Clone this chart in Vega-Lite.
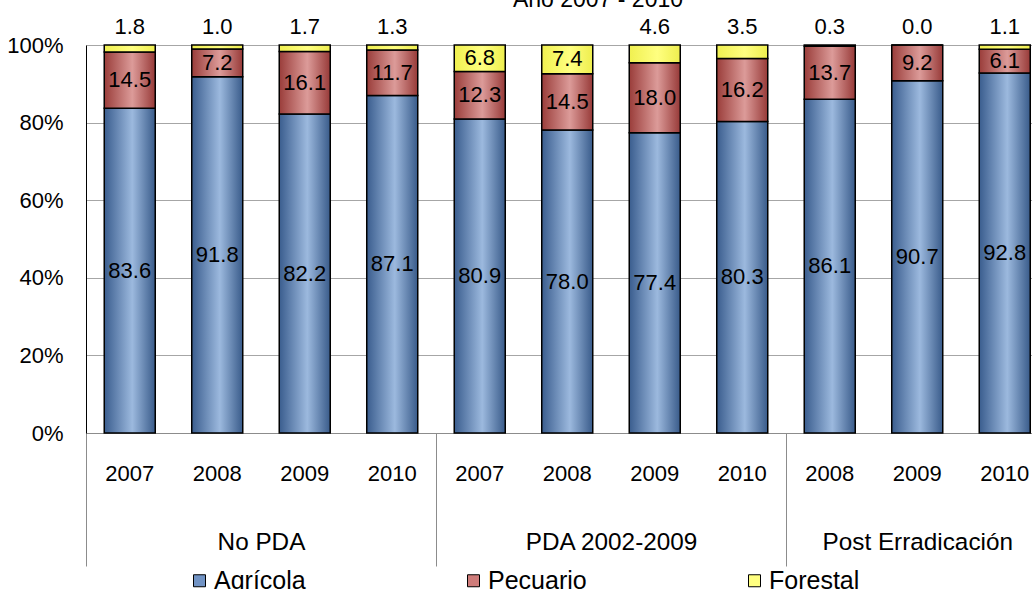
{
  "$schema": "https://vega.github.io/schema/vega-lite/v6.json",
  "width": 946,
  "height": 388,
  "autosize": {"type": "none"},
  "padding": {"left": 86, "top": 45, "right": 0, "bottom": 156},
  "background": "white",
  "config": {
    "font": "Liberation Sans",
    "view": {"stroke": null},
    "axis": {"labelColor": "black", "labelLimit": 400, "labelFont": "Liberation Sans"},
    "legend": {"labelFont": "Liberation Sans"}
  },
  "title": {
    "text": "Año 2007 - 2010",
    "fontSize": 23,
    "fontWeight": "normal",
    "color": "black",
    "font": "Liberation Sans",
    "anchor": "middle",
    "frame": "group",
    "dx": 39,
    "offset": 4
  },
  "data": {
    "values": [
      {"grupo": "No PDA", "anio": "2007", "tipo": "Agrícola", "pct": 83.6},
      {"grupo": "No PDA", "anio": "2007", "tipo": "Pecuario", "pct": 14.5},
      {"grupo": "No PDA", "anio": "2007", "tipo": "Forestal", "pct": 1.8},
      {"grupo": "No PDA", "anio": "2008", "tipo": "Agrícola", "pct": 91.8},
      {"grupo": "No PDA", "anio": "2008", "tipo": "Pecuario", "pct": 7.2},
      {"grupo": "No PDA", "anio": "2008", "tipo": "Forestal", "pct": 1.0},
      {"grupo": "No PDA", "anio": "2009", "tipo": "Agrícola", "pct": 82.2},
      {"grupo": "No PDA", "anio": "2009", "tipo": "Pecuario", "pct": 16.1},
      {"grupo": "No PDA", "anio": "2009", "tipo": "Forestal", "pct": 1.7},
      {"grupo": "No PDA", "anio": "2010", "tipo": "Agrícola", "pct": 87.1},
      {"grupo": "No PDA", "anio": "2010", "tipo": "Pecuario", "pct": 11.7},
      {"grupo": "No PDA", "anio": "2010", "tipo": "Forestal", "pct": 1.3},
      {"grupo": "PDA 2002-2009", "anio": "2007", "tipo": "Agrícola", "pct": 80.9},
      {"grupo": "PDA 2002-2009", "anio": "2007", "tipo": "Pecuario", "pct": 12.3},
      {"grupo": "PDA 2002-2009", "anio": "2007", "tipo": "Forestal", "pct": 6.8},
      {"grupo": "PDA 2002-2009", "anio": "2008", "tipo": "Agrícola", "pct": 78.0},
      {"grupo": "PDA 2002-2009", "anio": "2008", "tipo": "Pecuario", "pct": 14.5},
      {"grupo": "PDA 2002-2009", "anio": "2008", "tipo": "Forestal", "pct": 7.4},
      {"grupo": "PDA 2002-2009", "anio": "2009", "tipo": "Agrícola", "pct": 77.4},
      {"grupo": "PDA 2002-2009", "anio": "2009", "tipo": "Pecuario", "pct": 18.0},
      {"grupo": "PDA 2002-2009", "anio": "2009", "tipo": "Forestal", "pct": 4.6},
      {"grupo": "PDA 2002-2009", "anio": "2010", "tipo": "Agrícola", "pct": 80.3},
      {"grupo": "PDA 2002-2009", "anio": "2010", "tipo": "Pecuario", "pct": 16.2},
      {"grupo": "PDA 2002-2009", "anio": "2010", "tipo": "Forestal", "pct": 3.5},
      {"grupo": "Post Erradicación", "anio": "2008", "tipo": "Agrícola", "pct": 86.1},
      {"grupo": "Post Erradicación", "anio": "2008", "tipo": "Pecuario", "pct": 13.7},
      {"grupo": "Post Erradicación", "anio": "2008", "tipo": "Forestal", "pct": 0.3},
      {"grupo": "Post Erradicación", "anio": "2009", "tipo": "Agrícola", "pct": 90.7},
      {"grupo": "Post Erradicación", "anio": "2009", "tipo": "Pecuario", "pct": 9.2},
      {"grupo": "Post Erradicación", "anio": "2009", "tipo": "Forestal", "pct": 0.0},
      {"grupo": "Post Erradicación", "anio": "2010", "tipo": "Agrícola", "pct": 92.8},
      {"grupo": "Post Erradicación", "anio": "2010", "tipo": "Pecuario", "pct": 6.1},
      {"grupo": "Post Erradicación", "anio": "2010", "tipo": "Forestal", "pct": 1.1}
    ]
  },
  "transform": [
    {"calculate": "datum.grupo + '|' + datum.anio", "as": "barra"},
    {"calculate": "indexof(['Agrícola','Pecuario','Forestal'], datum.tipo)", "as": "orden"}
  ],
  "layer": [
    {
      "mark": {"type": "bar", "width": {"band": 0.583}, "stroke": "black", "strokeWidth": 1.5},
      "encoding": {
        "x": {
          "field": "barra",
          "type": "nominal",
          "scale": {
            "domain": ["No PDA|2007", "No PDA|2008", "No PDA|2009", "No PDA|2010", "PDA 2002-2009|2007", "PDA 2002-2009|2008", "PDA 2002-2009|2009", "PDA 2002-2009|2010", "Post Erradicación|2008", "Post Erradicación|2009", "Post Erradicación|2010"],
            "range": [0, 962.5],
            "paddingInner": 0,
            "paddingOuter": 0
          },
          "axis": {
            "orient": "bottom",
            "title": null,
            "labelExpr": "split(datum.value, '|')[1]",
            "ticks": false,
            "grid": false,
            "domainColor": "#8c8c8c",
            "domainWidth": 1,
            "labelPadding": 30,
            "labelFontSize": 22,
            "labelAngle": 0
          }
        },
        "y": {
          "field": "pct",
          "type": "quantitative",
          "stack": "normalize",
          "scale": {"domain": [0, 1]},
          "axis": {
            "orient": "left",
            "title": null,
            "format": ".0%",
            "values": [0, 0.2, 0.4, 0.6, 0.8, 1],
            "grid": true,
            "gridColor": "#a6a6a6",
            "gridWidth": 1,
            "domainColor": "black",
            "domainWidth": 1,
            "ticks": false,
            "labelPadding": 23,
            "labelFontSize": 22,
            "labelFlush": false
          }
        },
        "detail": {"field": "tipo"},
        "order": {"field": "orden", "type": "quantitative"},
        "fill": {
          "condition": [
            {"test": "datum.tipo == 'Agrícola'", "value": {"gradient": "linear", "x1": 0, "y1": 0, "x2": 1, "y2": 0, "stops": [{"offset": 0, "color": "#3a5d8e"}, {"offset": 0.55, "color": "#9cb9de"}, {"offset": 1, "color": "#395b8a"}]}},
            {"test": "datum.tipo == 'Pecuario'", "value": {"gradient": "linear", "x1": 0, "y1": 0, "x2": 1, "y2": 0, "stops": [{"offset": 0, "color": "#9a3d3a"}, {"offset": 0.55, "color": "#dc9b99"}, {"offset": 1, "color": "#973a38"}]}}
          ],
          "value": {"gradient": "linear", "x1": 0, "y1": 0, "x2": 1, "y2": 0, "stops": [{"offset": 0, "color": "#f0f050"}, {"offset": 0.55, "color": "#ffff80"}, {"offset": 1, "color": "#eeee4e"}]}
        }
      }
    },
    {
      "mark": {"type": "text", "fontSize": 22, "color": "black", "baseline": "middle", "font": "Liberation Sans"},
      "encoding": {
        "x": {"field": "barra", "type": "nominal", "axis": null},
        "y": {"field": "pct", "type": "quantitative", "stack": "normalize", "bandPosition": 0.5, "axis": null},
        "detail": {"field": "tipo"},
        "order": {"field": "orden", "type": "quantitative"},
        "text": {
          "condition": {"test": "datum.tipo != 'Forestal' || datum.pct >= 5", "field": "pct", "type": "quantitative", "format": ".1f"},
          "value": ""
        }
      }
    },
    {
      "transform": [{"filter": "datum.tipo == 'Forestal' && datum.pct < 5"}],
      "mark": {"type": "text", "fontSize": 22, "color": "black", "baseline": "middle", "dy": -18, "font": "Liberation Sans"},
      "encoding": {
        "x": {
          "field": "barra",
          "type": "nominal",
          "axis": {
            "orient": "bottom",
            "title": null,
            "domain": false,
            "grid": false,
            "ticks": true,
            "tickBand": "extent",
            "tickSize": 133,
            "tickColor": "#8c8c8c",
            "tickWidth": 1,
            "tickOpacity": {"condition": {"test": "datum.extra || datum.value == 'No PDA|2010' || datum.value == 'PDA 2002-2009|2010'", "value": 1}, "value": 0},
            "labelExpr": "datum.value == 'No PDA|2008' ? 'No PDA' : datum.value == 'PDA 2002-2009|2008' ? 'PDA 2002-2009' : datum.value == 'Post Erradicación|2009' ? 'Post Erradicación' : ''",
            "labelOffset": {"condition": {"test": "datum.value == 'No PDA|2008' || datum.value == 'PDA 2002-2009|2008'", "value": 43.75}, "value": 0},
            "labelPadding": -36,
            "labelFontSize": 24.3,
            "labelAngle": 0
          }
        },
        "y": {"datum": 1, "type": "quantitative", "axis": null},
        "text": {"field": "pct", "type": "quantitative", "format": ".1f"}
      }
    },
    {
      "mark": {"type": "point", "shape": "square", "filled": true, "opacity": 0},
      "encoding": {
        "x": {"field": "barra", "type": "nominal", "axis": null},
        "y": {"datum": 0, "type": "quantitative", "axis": null},
        "color": {
          "field": "tipo",
          "type": "nominal",
          "scale": {"domain": ["Agrícola", "Pecuario", "Forestal"], "range": ["#7193c4", "#cf7c7a", "#ffff80"]},
          "legend": {
            "title": null,
            "orient": "none",
            "legendX": 101,
            "legendY": 523,
            "direction": "horizontal",
            "columnPadding": 155,
            "padding": 0,
            "symbolType": "square",
            "symbolSize": 144,
            "symbolOpacity": 1,
            "symbolStrokeColor": "black",
            "symbolStrokeWidth": 1,
            "labelFontSize": 25,
            "labelColor": "black",
            "labelOffset": 2,
            "labelLimit": 300,
            "encode": {"symbols": {"update": {"stroke": {"value": "black"}, "strokeWidth": {"value": 1}, "opacity": {"value": 1}}}}
          }
        }
      }
    }
  ],
  "resolve": {"axis": {"x": "independent", "y": "independent"}}
}
